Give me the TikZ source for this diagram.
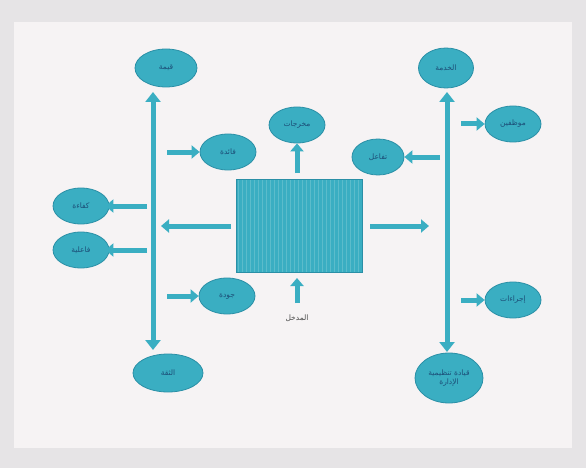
\documentclass[tikz,border=0pt]{standalone}
\usepackage{fontspec}
\newfontfamily\arabicfont[Script=Arabic]{DejaVu Sans}
\TeXXeTstate=1
\usetikzlibrary{shapes.geometric,arrows.meta}
\definecolor{teal1}{HTML}{3AAEC2}
\definecolor{tealdk}{HTML}{2A8FA6}
\definecolor{stripe}{HTML}{5BBCCB}
\definecolor{txtc}{HTML}{1C4F78}
\definecolor{bgc}{HTML}{E6E4E6}
\definecolor{panel}{HTML}{F6F3F4}
\newcommand{\ar}[1]{{\arabicfont\beginR #1\endR}}
\tikzset{
  oval/.style={ellipse, fill=teal1, draw=tealdk, line width=0.8pt,
    minimum width=56pt, minimum height=36pt, inner sep=0pt,
    text=txtc, font=\fontsize{7.5}{8.5}\selectfont, align=center},
  blockarrow/.style={teal1, line width=5pt,
    -{Triangle[width=13pt,length=8pt]}},
  dblarrow/.style={teal1, line width=5pt,
    {Triangle[width=15pt,length=10pt]}-{Triangle[width=15pt,length=10pt]}},
  lbl/.style={text=black!70, font=\fontsize{7.5}{8.5}\selectfont}
}
\begin{document}
\begin{tikzpicture}[x=1pt,y=-1pt]
  % page and panel
  \fill[bgc] (0,0) rectangle (586,468);
  \fill[panel] (14,22) rectangle (572,448);
  \useasboundingbox (0,0) rectangle (586,468);

  % central block with vertical stripes
  \node[draw=none, fill=teal1, minimum width=125pt, minimum height=92pt,
        inner sep=0pt] (core) at (299.5,226) {};
  \foreach \i in {0,...,30}
    \draw[stripe, line width=1pt]
      ([xshift=2pt+\i*4pt]core.north west) -- ([xshift=2pt+\i*4pt]core.south west);
  \draw[tealdk, line width=0.8pt] (core.north west) rectangle (core.south east);

  % vertical axes
  \coordinate (lt) at (153,92);
  \coordinate (lb) at (153,350);
  \coordinate (rt) at (447,92);
  \coordinate (rb) at (447,352);
  \draw[dblarrow] (lt) -- (lb);
  \draw[dblarrow] (rt) -- (rb);

  % ovals on the left axis
  \node[oval, minimum width=62pt, minimum height=38pt] (tl) at (166,68) {\ar{قيمة}};
  \node[oval, minimum width=70pt, minimum height=38pt] (bl) at (168,373) {\ar{الثقة}};
  \node[oval] (lu) at (228,152) {\ar{فائدة}};
  \node[oval] (ll) at (227,296) {\ar{جودة}};
  \node[oval] (lo1) at (81,206) {\ar{كفاءة}};
  \node[oval] (lo2) at (81,250) {\ar{فاعلية}};

  % ovals in the centre
  \node[oval] (tc) at (297,125) {\ar{مخرجات}};
  \node[oval, minimum width=52pt] (rc) at (378,157) {\ar{تفاعل}};

  % ovals on the right axis
  \node[oval, minimum width=55pt, minimum height=40pt] (tr) at (446,68) {\ar{الخدمة}};
  \node[oval, minimum width=68pt, minimum height=50pt] (br) at (449,378)
        {\ar{قيادة تنظيمية}\\\ar{الإدارة}};
  \node[oval] (ro1) at (513,124) {\ar{موظفين}};
  \node[oval] (ro2) at (513,300) {\ar{إجراءات}};

  % input label and the ends of the vertical short arrows
  \node[lbl] (inp) at (297,318) {\ar{المدخل}};
  \coordinate (inS) at (297,303);
  \coordinate (inE) at (297,278);
  \coordinate (outS) at (297,173);

  % short block arrows, level with their ovals
  \draw[blockarrow] ([xshift=14pt]lt |- lu.west) -- (lu.west);
  \draw[blockarrow] ([xshift=14pt]lt |- ll.west) -- (ll.west);
  \draw[blockarrow] ([xshift=-6pt]lt |- lo1.east) -- ([xshift=-4pt]lo1.east);
  \draw[blockarrow] ([xshift=-6pt]lt |- lo2.east) -- ([xshift=-4pt]lo2.east);
  \draw[blockarrow] ([xshift=-7pt]rt |- rc.east) -- (rc.east);
  \draw[blockarrow] ([xshift=14pt]rt |- ro1.west) -- (ro1.west);
  \draw[blockarrow] ([xshift=14pt]rt |- ro2.west) -- (ro2.west);
  \draw[blockarrow] (inS) -- (inE);
  \draw[blockarrow] (outS) -- (tc.south);

  % outputs of the central block
  \draw[blockarrow] ([xshift=-6pt]core.west) -- ([xshift=8pt]lt |- core.west);
  \draw[blockarrow] ([xshift=8pt]core.east) -- ([xshift=-18pt]rt |- core.east);
\end{tikzpicture}
\end{document}
